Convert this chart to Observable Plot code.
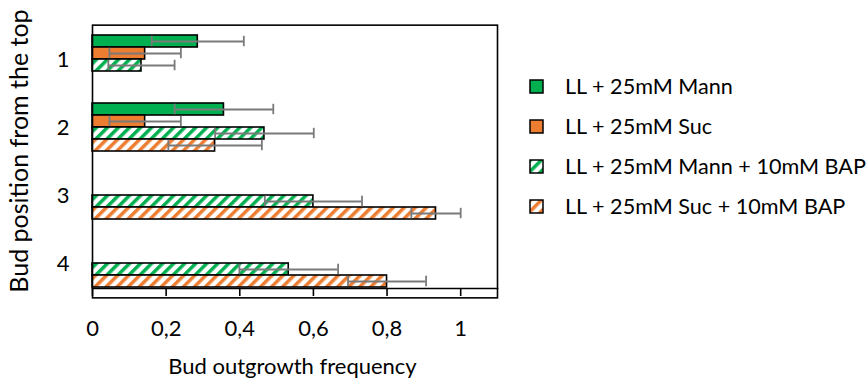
<!DOCTYPE html>
<html>
<head>
<meta charset="utf-8">
<script src="https://cdn.jsdelivr.net/npm/d3@7"></script>
<script src="https://cdn.jsdelivr.net/npm/@observablehq/plot@0.6"></script>
<style>
  body { margin: 0; background: #fff; }
  #wrap { position: relative; width: 867px; height: 384px; overflow: hidden; font-family: Lato, sans-serif; color: #000; }
  #defs { position: absolute; width: 0; height: 0; }
  #legend { position: absolute; left: 529px; top: 66px; width: 338px; font-size: 21.6px; }
  .row { display: flex; align-items: center; height: 40px; white-space: nowrap; }
  .row svg { margin-right: 21px; flex: none; }
  #xlabel { position: absolute; left: 292.5px; top: 354.5px; transform: translateX(-50%); font-size: 22px; line-height: 1; white-space: nowrap; }
  #ylabel { position: absolute; left: 18px; top: 151px; transform: translate(-50%, -50%) rotate(-90deg); font-size: 25px; line-height: 1; white-space: nowrap; }
</style>
</head>
<body>
<svg id="defs" aria-hidden="true">
  <defs>
    <pattern id="hatchGreen" patternUnits="userSpaceOnUse" width="7.8" height="7.8" patternTransform="rotate(45)">
      <rect width="7.8" height="7.8" fill="#ffffff"></rect>
      <rect width="3.5" height="7.8" fill="#00B050"></rect>
    </pattern>
    <pattern id="hatchOrange" patternUnits="userSpaceOnUse" width="7.8" height="7.8" patternTransform="rotate(45)">
      <rect width="7.8" height="7.8" fill="#ffffff"></rect>
      <rect width="3.5" height="7.8" fill="#ED7D31"></rect>
    </pattern>
  </defs>
</svg>
<div id="wrap">
  <div id="legend"></div>
  <div id="xlabel"></div>
  <div id="ylabel"></div>
</div>
<script>
// ---- data ----
const positions = ["1", "2", "3", "4"];
const series = [
  "LL + 25mM Mann",
  "LL + 25mM Suc",
  "LL + 25mM Mann + 10mM BAP",
  "LL + 25mM Suc + 10mM BAP"
];
const mannValues    = [0.286, 0.357, null, null];
const mannErrors    = [0.125, 0.134, null, null];
const sucValues     = [0.143, 0.143, null, null];
const sucErrors     = [0.097, 0.097, null, null];
const mannBapValues = [0.133, 0.467, 0.600, 0.533];
const mannBapErrors = [0.090, 0.134, 0.132, 0.134];
const sucBapValues  = [null, 0.333, 0.933, 0.800];
const sucBapErrors  = [null, 0.127, 0.067, 0.106];
const xTicks = [0, 0.2, 0.4, 0.6, 0.8, 1];
const xTitle = "Bud outgrowth frequency";
const yTitle = "Bud position from the top";
const fills = ["#00B050", "#ED7D31", "url(#hatchGreen)", "url(#hatchOrange)"];

const allValues = [mannValues, sucValues, mannBapValues, sucBapValues];
const allErrors = [mannErrors, sucErrors, mannBapErrors, sucBapErrors];
const rows = [];
series.forEach((s, si) => positions.forEach((p, pi) => {
  const v = allValues[si][pi];
  if (v != null) rows.push({pos: p, series: s, value: v, error: allErrors[si][pi]});
}));

const errColor = "#7a7a7a";
const outerPad = -9.35;
const chart = Plot.plot({
  width: 867,
  height: 384,
  marginLeft: 92,
  marginRight: 370,
  marginTop: 24,
  marginBottom: 86,
  style: {fontFamily: "Lato, sans-serif", color: "#000", background: "transparent"},
  x: {domain: [0, 1.1], axis: null},
  y: {domain: series, padding: 0, axis: null},
  fy: {domain: positions, paddingInner: 0.272, paddingOuter: 0.136, axis: null},
  color: {domain: series, range: fills},
  marks: [
    Plot.barX(rows, {x: "value", y: "series", fy: "pos", fill: "series", stroke: "#000", strokeWidth: 1.6}),
    Plot.ruleY(rows, {y: "series", fy: "pos", x1: d => d.value - d.error, x2: d => d.value + d.error, stroke: errColor, strokeWidth: 1.8}),
    Plot.tickX(rows, {x: d => d.value - d.error, y: "series", fy: "pos", stroke: errColor, strokeWidth: 1.8, inset: 0.8}),
    Plot.tickX(rows, {x: d => d.value + d.error, y: "series", fy: "pos", stroke: errColor, strokeWidth: 1.8, inset: 0.8}),
    Plot.axisX({ticks: xTicks, tickFormat: d => String(d).replace(".", ","), tickSize: 8, tickPadding: 24, fontSize: 22, label: null, strokeWidth: 1.6}),
    Plot.frame({anchor: "bottom", facetAnchor: "bottom", stroke: "#000", strokeWidth: 1.6}),
    Plot.axisFy({anchor: "left", tickSize: 0, tickPadding: 23, fontSize: 22, label: null}),
    Plot.frame({facet: "super", stroke: "#000", strokeWidth: 1.6, insetTop: outerPad, insetBottom: outerPad})
  ]
});
document.getElementById("wrap").prepend(chart);
document.getElementById("xlabel").textContent = xTitle;
document.getElementById("ylabel").textContent = yTitle;

// legend
const legend = d3.select("#legend");
series.forEach((s, i) => {
  const row = legend.append("div").attr("class", "row");
  const sw = row.append("svg").attr("width", 15).attr("height", 15);
  sw.append("rect").attr("x", 1).attr("y", 1).attr("width", 13).attr("height", 13)
    .attr("fill", fills[i]).attr("stroke", "#000").attr("stroke-width", 1.5);
  row.append("span").text(s);
});
</script>
</body>
</html>
